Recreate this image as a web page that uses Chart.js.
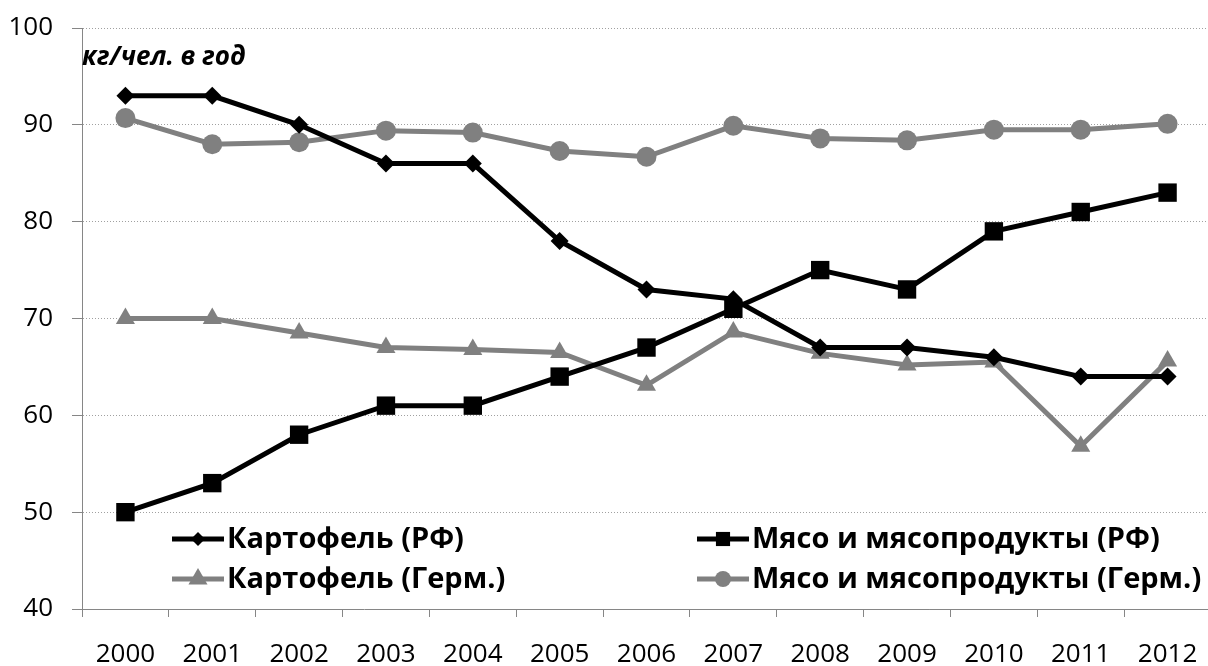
<!DOCTYPE html>
<html>
<head>
<meta charset="utf-8">
<script src="https://cdn.jsdelivr.net/npm/chart.js@4/dist/chart.umd.min.js"></script>
<style>
  html, body { margin: 0; padding: 0; background: #fff; overflow: hidden; }
  #wrap { width: 1224px; height: 666px; }
</style>
</head>
<body>
<div id="wrap"><canvas id="myChart"></canvas></div>
<script>
const years = ["2000", "2001", "2002", "2003", "2004", "2005", "2006", "2007", "2008", "2009", "2010", "2011", "2012"];
const potatoRu = [93, 93, 90, 86, 86, 78, 73, 72, 67, 67, 66, 64, 64];
const meatRu = [50, 53, 58, 61, 61, 64, 67, 71, 75, 73, 79, 81, 83];
const potatoDe = [70, 70, 68.5, 67, 66.8, 66.5, 63.1, 68.6, 66.4, 65.2, 65.5, 56.8, 65.6];
const meatDe = [90.7, 88, 88.2, 89.4, 89.2, 87.3, 86.7, 89.9, 88.6, 88.4, 89.5, 89.5, 90.1];
const seriesNames = ["Картофель (РФ)", "Мясо и мясопродукты (РФ)", "Картофель (Герм.)", "Мясо и мясопродукты (Герм.)"];
const unitLabel = "кг/чел. в год";

const BLACK = "#000000";
const GRAY = "#808080";
const FONT = "'Open Sans', 'Noto Sans', sans-serif";

function series(label, data, color, style, r) {
  return {
    label: label,
    data: data,
    borderColor: color,
    backgroundColor: color,
    borderWidth: 5,
    pointStyle: style,
    pointRadius: r,
    pointHoverRadius: r,
    pointBorderWidth: 0,
    tension: 0,
  };
}

// legend inside the plot, two columns, plus the unit label
const extras = {
  id: "extras",
  afterDraw(chart) {
    const ctx = chart.ctx;
    const a = chart.chartArea;
    ctx.save();
    ctx.font = "italic bold 26px " + FONT;
    ctx.fillStyle = BLACK;
    ctx.textBaseline = "middle";
    ctx.textAlign = "left";
    ctx.fillText(unitLabel, a.left, 58);

    const cols = [a.left + 90, a.left + 615];
    const rows = [539, 579];
    const legendR = [7, 10, 11, 8];
    ctx.font = "bold 29px " + FONT;
    chart.data.datasets.forEach((ds, i) => {
      const x = cols[i % 2];
      const y = rows[Math.floor(i / 2)];
      ctx.strokeStyle = ds.borderColor;
      ctx.lineWidth = 5;
      ctx.beginPath();
      ctx.moveTo(x, y);
      ctx.lineTo(x + 52, y);
      ctx.stroke();
      ctx.fillStyle = ds.backgroundColor;
      Chart.helpers.drawPoint(ctx, { pointStyle: ds.pointStyle, radius: legendR[i], rotation: 0, borderWidth: 0 }, x + 26, y);
      ctx.fillStyle = BLACK;
      ctx.fillText(ds.label, x + 55, y + 1);
    });
    ctx.restore();
  },
};

new Chart(document.getElementById("myChart"), {
  type: "line",
  data: {
    labels: years,
    datasets: [
      series(seriesNames[0], potatoRu, BLACK, "rectRot", 9),
      series(seriesNames[1], meatRu, BLACK, "rect", 13),
      series(seriesNames[2], potatoDe, GRAY, "triangle", 11),
      series(seriesNames[3], meatDe, GRAY, "circle", 10),
    ],
  },
  options: {
    responsive: true,
    maintainAspectRatio: false,
    animation: false,
    layout: { padding: { top: 28, right: 0, left: 0, bottom: 0 } },
    plugins: { legend: { display: false }, tooltip: { enabled: false } },
    scales: {
      x: {
        offset: true,
        grid: { offset: true, drawOnChartArea: false, tickLength: 8, tickColor: "#868686" },
        border: { color: "#868686", width: 1 },
        ticks: { color: BLACK, font: { family: FONT, size: 26 }, padding: 22, maxRotation: 0 },
        afterFit(s) { s.height = 57; s.paddingLeft = 0; s.paddingRight = 0; },
      },
      y: {
        min: 40,
        max: 100,
        ticks: { stepSize: 10, color: BLACK, font: { family: FONT, size: 26 }, padding: 19 },
        grid: { color: "#a0a0a0", tickLength: 10, tickColor: "#868686", tickBorderDash: [] },
        border: { color: "#868686", width: 1, dash: [1, 2] },
        afterFit(s) { s.width = 82; s.paddingTop = 0; s.paddingBottom = 0; },
      },
    },
  },
  plugins: [extras],
});
</script>
</body>
</html>
